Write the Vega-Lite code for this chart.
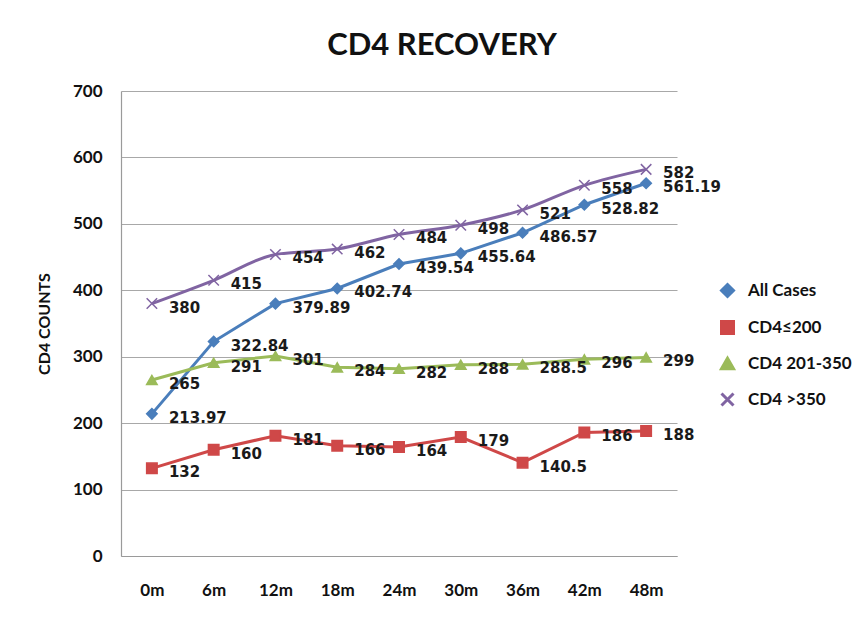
{
  "$schema": "https://vega.github.io/schema/vega-lite/v6.json",
  "width": 556,
  "height": 465,
  "autosize": "none",
  "padding": {"left": 121, "top": 91, "right": 191, "bottom": 63},
  "background": "white",
  "title": {
    "text": "CD4 RECOVERY",
    "font": "Lato",
    "fontSize": 31,
    "fontWeight": "bold",
    "color": "#111111",
    "anchor": "middle",
    "dx": 43,
    "offset": 20
  },
  "data": {
    "values": [
      {"t": "0m", "series": "All Cases", "v": 213.97},
      {"t": "6m", "series": "All Cases", "v": 322.84},
      {"t": "12m", "series": "All Cases", "v": 379.89},
      {"t": "18m", "series": "All Cases", "v": 402.74},
      {"t": "24m", "series": "All Cases", "v": 439.54},
      {"t": "30m", "series": "All Cases", "v": 455.64},
      {"t": "36m", "series": "All Cases", "v": 486.57},
      {"t": "42m", "series": "All Cases", "v": 528.82},
      {"t": "48m", "series": "All Cases", "v": 561.19},
      {"t": "0m", "series": "CD4≤200", "v": 132},
      {"t": "6m", "series": "CD4≤200", "v": 160},
      {"t": "12m", "series": "CD4≤200", "v": 181},
      {"t": "18m", "series": "CD4≤200", "v": 166},
      {"t": "24m", "series": "CD4≤200", "v": 164},
      {"t": "30m", "series": "CD4≤200", "v": 179},
      {"t": "36m", "series": "CD4≤200", "v": 140.5},
      {"t": "42m", "series": "CD4≤200", "v": 186},
      {"t": "48m", "series": "CD4≤200", "v": 188},
      {"t": "0m", "series": "CD4 201-350", "v": 265},
      {"t": "6m", "series": "CD4 201-350", "v": 291},
      {"t": "12m", "series": "CD4 201-350", "v": 301},
      {"t": "18m", "series": "CD4 201-350", "v": 284},
      {"t": "24m", "series": "CD4 201-350", "v": 282},
      {"t": "30m", "series": "CD4 201-350", "v": 288},
      {"t": "36m", "series": "CD4 201-350", "v": 288.5},
      {"t": "42m", "series": "CD4 201-350", "v": 296},
      {"t": "48m", "series": "CD4 201-350", "v": 299},
      {"t": "0m", "series": "CD4 >350", "v": 380},
      {"t": "6m", "series": "CD4 >350", "v": 415},
      {"t": "12m", "series": "CD4 >350", "v": 454},
      {"t": "18m", "series": "CD4 >350", "v": 462},
      {"t": "24m", "series": "CD4 >350", "v": 484},
      {"t": "30m", "series": "CD4 >350", "v": 498},
      {"t": "36m", "series": "CD4 >350", "v": 521},
      {"t": "42m", "series": "CD4 >350", "v": 558},
      {"t": "48m", "series": "CD4 >350", "v": 582}
    ]
  },
  "transform": [{"calculate": "datum.series", "as": "marker"}],
  "encoding": {
    "x": {
      "field": "t",
      "type": "ordinal",
      "sort": ["0m", "6m", "12m", "18m", "24m", "30m", "36m", "42m", "48m"],
      "scale": {"paddingInner": 0, "paddingOuter": 0.5},
      "axis": {
        "title": null,
        "labelAngle": 0,
        "labelFont": "Lato",
        "labelFontSize": 17,
        "labelFontWeight": "bold",
        "labelColor": "#111111",
        "labelPadding": 26,
        "ticks": false,
        "domain": true,
        "domainColor": "#9a9a9a",
        "domainWidth": 1.2,
        "grid": false
      }
    },
    "y": {
      "field": "v",
      "type": "quantitative",
      "scale": {"domain": [0, 700], "nice": false},
      "axis": {
        "title": "CD4 COUNTS",
        "titleFont": "Lato",
        "titleFontSize": 16,
        "titleFontWeight": "bold",
        "titleColor": "#111111",
        "titlePadding": 20,
        "values": [0, 100, 200, 300, 400, 500, 600, 700],
        "labelFont": "Lato",
        "labelFontSize": 17,
        "labelFontWeight": "bold",
        "labelColor": "#111111",
        "labelPadding": 19,
        "ticks": false,
        "domain": true,
        "domainColor": "#9a9a9a",
        "domainWidth": 1.2,
        "grid": true,
        "gridColor": "#a8a8a8",
        "gridWidth": 1.2
      }
    },
    "color": {
      "field": "series",
      "type": "nominal",
      "sort": ["All Cases", "CD4≤200", "CD4 201-350", "CD4 >350"],
      "scale": {
        "domain": ["All Cases", "CD4≤200", "CD4 201-350", "CD4 >350"],
        "range": ["#4a7ebb", "#cf4848", "#9bbb59", "#8064a2"]
      },
      "legend": {
        "title": null,
        "orient": "none",
        "legendX": 598,
        "legendY": 191,
        "labelFont": "Lato",
        "labelFontSize": 17,
        "labelFontWeight": "bold",
        "labelColor": "#111111",
        "labelOffset": 12,
        "symbolSize": 144,
        "symbolStrokeWidth": 3,
        "rowPadding": 12
      }
    }
  },
  "layer": [
    {
      "transform": [{"filter": "datum.series !== 'CD4 >350'"}],
      "mark": {"type": "line", "strokeWidth": 3}
    },
    {
      "transform": [{"filter": "datum.series === 'CD4 >350'"}],
      "mark": {"type": "line", "strokeWidth": 3, "interpolate": "monotone"}
    },
    {
      "mark": {"type": "point", "filled": true, "size": 110, "strokeWidth": 1.5, "opacity": 1},
      "encoding": {
        "shape": {
          "field": "marker",
          "type": "nominal",
          "scale": {
            "domain": ["All Cases", "CD4≤200", "CD4 201-350", "CD4 >350"],
            "range": ["diamond", "square", "triangle-up", "M-1,-1L1,1M-1,1L1,-1"]
          },
          "legend": null
        },
        "stroke": {
          "field": "marker",
          "type": "nominal",
          "scale": {
            "domain": ["All Cases", "CD4≤200", "CD4 201-350", "CD4 >350"],
            "range": ["#4a7ebb", "#cf4848", "#9bbb59", "#8064a2"]
          },
          "legend": null
        }
      }
    },
    {
      "mark": {
        "type": "text",
        "align": "left",
        "baseline": "middle",
        "dx": 17,
        "dy": 4,
        "font": "DejaVu Sans",
        "fontSize": 15,
        "fontWeight": "bold",
        "color": "#1a1a1a"
      },
      "encoding": {
        "text": {"field": "v", "type": "nominal"},
        "color": {"value": "#1a1a1a"}
      }
    }
  ],
  "config": {
    "view": {"stroke": null}
  }
}
